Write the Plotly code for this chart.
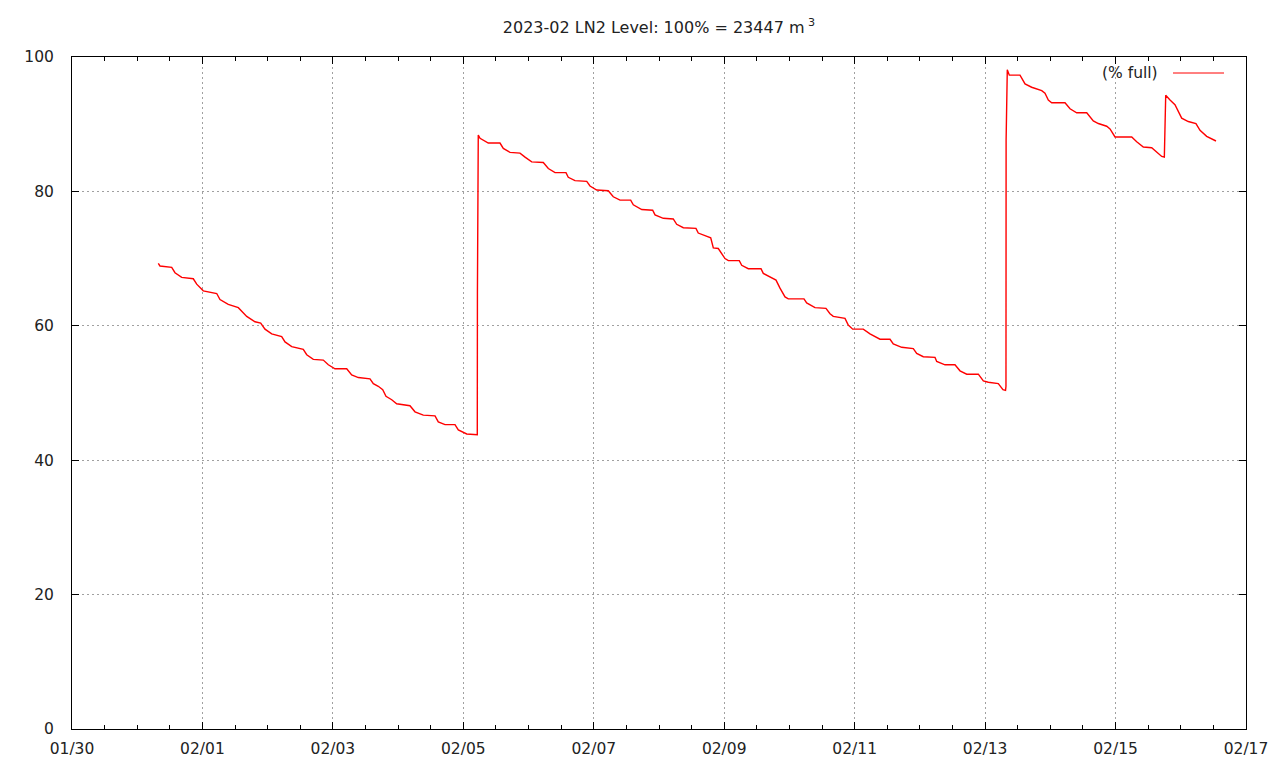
import pandas as pd
import plotly.graph_objects as go

# Elapsed time (days since 2023-01-30 00:00) and LN2 level (% full)
days_since_jan30 = [
    1.323, 1.349, 1.529, 1.579, 1.682, 1.860, 1.912, 2.013, 2.219, 2.269,
    2.396, 2.550, 2.679, 2.806, 2.893, 2.959, 3.062, 3.215, 3.266, 3.369,
    3.546, 3.599, 3.700, 3.853, 3.930, 4.032, 4.212, 4.288, 4.390, 4.569,
    4.620, 4.696, 4.764, 4.814, 4.902, 4.978, 5.182, 5.259, 5.386, 5.566,
    5.616, 5.719, 5.872, 5.923, 6.052, 6.214, 6.216, 6.229, 6.256, 6.383,
    6.562, 6.613, 6.716, 6.869, 6.946, 7.048, 7.226, 7.303, 7.406, 7.574,
    7.609, 7.712, 7.892, 7.942, 8.045, 8.222, 8.299, 8.402, 8.566, 8.606,
    8.735, 8.903, 8.939, 9.066, 9.219, 9.271, 9.373, 9.567, 9.602, 9.705,
    9.793, 9.833, 9.909, 10.012, 10.063, 10.231, 10.268, 10.369, 10.564, 10.599,
    10.702, 10.794, 10.855, 10.932, 10.982, 11.223, 11.264, 11.392, 11.560, 11.622,
    11.672, 11.852, 11.902, 11.970, 12.132, 12.235, 12.388, 12.542, 12.592, 12.721,
    12.899, 12.951, 13.052, 13.232, 13.258, 13.385, 13.538, 13.615, 13.718, 13.896,
    13.973, 14.049, 14.202, 14.274, 14.313, 14.320, 14.322, 14.340, 14.371, 14.535,
    14.612, 14.714, 14.868, 14.918, 14.969, 15.021, 15.225, 15.302, 15.404, 15.558,
    15.659, 15.736, 15.864, 15.915, 15.992, 16.248, 16.324, 16.426, 16.554, 16.631,
    16.708, 16.748, 16.769, 16.835, 16.911, 17.014, 17.115, 17.233, 17.295, 17.397,
    17.540,
]
level_pct = [
    69.3, 68.9, 68.7, 67.9, 67.2, 67.0, 66.2, 65.2, 64.8, 63.9,
    63.2, 62.7, 61.4, 60.6, 60.4, 59.5, 58.8, 58.4, 57.6, 56.9,
    56.5, 55.7, 55.0, 54.9, 54.2, 53.6, 53.6, 52.7, 52.3, 52.1,
    51.4, 51.0, 50.5, 49.5, 49.0, 48.4, 48.1, 47.2, 46.7, 46.6,
    45.7, 45.3, 45.3, 44.5, 43.9, 43.8, 64.8, 88.4, 87.9, 87.2,
    87.2, 86.4, 85.8, 85.7, 85.1, 84.4, 84.3, 83.4, 82.8, 82.8,
    82.1, 81.6, 81.5, 80.8, 80.2, 80.1, 79.2, 78.7, 78.7, 78.0,
    77.3, 77.2, 76.5, 76.0, 75.9, 75.1, 74.6, 74.5, 73.8, 73.4,
    73.1, 71.6, 71.5, 70.0, 69.7, 69.7, 69.0, 68.5, 68.5, 67.8,
    67.3, 66.8, 65.6, 64.3, 64.0, 64.0, 63.4, 62.7, 62.6, 61.8,
    61.4, 61.1, 60.1, 59.5, 59.5, 58.8, 58.0, 58.0, 57.3, 56.8,
    56.6, 55.9, 55.4, 55.3, 54.7, 54.2, 54.2, 53.3, 52.8, 52.8,
    51.8, 51.6, 51.4, 50.5, 50.4, 51.0, 87.6, 98.1, 97.3, 97.3,
    96.0, 95.5, 95.0, 94.6, 93.6, 93.2, 93.2, 92.3, 91.7, 91.7,
    90.5, 90.1, 89.7, 89.3, 88.1, 88.1, 87.4, 86.6, 86.5, 85.8,
    85.2, 85.1, 94.3, 93.6, 92.9, 90.9, 90.4, 90.1, 89.1, 88.2,
    87.5,
]

series_name = "(% full)"
title_text = "2023-02 LN2 Level: 100% = 23447 m<sup> 3</sup>"
x_start, x_end = "2023-01-30", "2023-02-17"

base = pd.Timestamp("2023-01-30")
times = base + pd.to_timedelta(days_since_jan30, unit="D")

FONT = "DejaVu Sans"
GRID = "#a0a0a0"
TXT = "#222222"

fig = go.Figure()
fig.add_trace(go.Scatter(
    x=times, y=level_pct, mode="lines", name=series_name,
    line=dict(color="#ff0000", width=1.4), showlegend=False,
))

fig.update_layout(
    width=1280, height=768,
    paper_bgcolor="white", plot_bgcolor="white",
    margin=dict(l=72, r=34, t=57, b=39, autoexpand=False),
    font=dict(family=FONT, size=15.5, color=TXT),
    title=dict(text=title_text, x=(659 / 1280), xanchor="center", y=1 - 27 / 768,
               yanchor="middle", font=dict(family=FONT, size=16, color=TXT)),
    xaxis=dict(
        type="date", range=[x_start, x_end],
        tick0=x_start, dtick=2 * 86400000, tickformat="%m/%d",
        showline=True, linecolor="black", linewidth=1, mirror="allticks",
        ticks="inside", ticklen=7, tickcolor="black", tickwidth=1,
        showgrid=True, gridcolor=GRID, gridwidth=1, griddash="2px,3px",
        minor=dict(dtick=43200000, ticks="inside", ticklen=4, tickcolor="black",
                   showgrid=False),
        zeroline=False, ticklabelstandoff=5,
    ),
    yaxis=dict(
        range=[0, 100], tick0=0, dtick=20,
        showline=True, linecolor="black", linewidth=1, mirror="allticks",
        ticks="inside", ticklen=7, tickcolor="black", tickwidth=1,
        showgrid=True, gridcolor=GRID, gridwidth=1, griddash="2px,3px",
        zeroline=False, ticklabelstandoff=14,
    ),
)

# gnuplot-style key: label on the left, line sample on the right
fig.add_annotation(
    xref="paper", yref="paper", x=(1160 - 72) / 1174, y=(729 - 73) / 672,
    text=series_name, showarrow=False, xanchor="right", yanchor="middle",
    font=dict(family=FONT, size=15.5, color=TXT),
)
fig.add_shape(
    type="line", xref="paper", yref="paper",
    x0=(1173 - 72) / 1174, x1=(1224 - 72) / 1174,
    y0=(729 - 73) / 672, y1=(729 - 73) / 672,
    line=dict(color="#ff0000", width=1),
)

fig.write_html(
    "out.html",
    config={"displayModeBar": False},
    post_script="document.body.style.margin='0';document.body.style.overflow='hidden';",
)
